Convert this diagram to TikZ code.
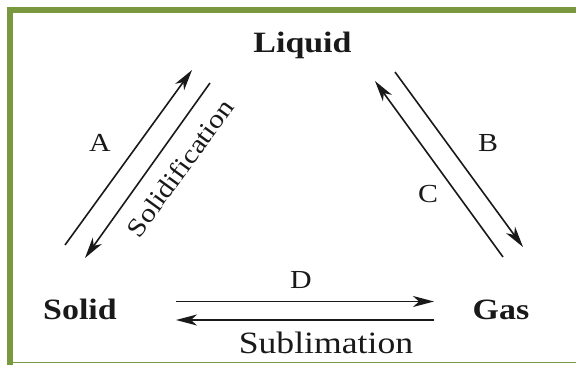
\documentclass[tikz,border=0pt]{standalone}
\usepackage{fontspec}
\setmainfont{Liberation Serif}[FakeStretch=1.15]
\usetikzlibrary{arrows.meta}
\definecolor{frameg}{RGB}{122,152,62}
\definecolor{ink}{RGB}{25,25,25}
\tikzset{
  phase/.style={font=\fontsize{29.5}{30}\selectfont\bfseries, text=ink, inner sep=0pt, anchor=base},
  lbl/.style={font=\fontsize{26}{28}\selectfont, text=ink, inner sep=0pt, anchor=base},
  proc/.style={font=\fontsize{31}{32}\selectfont, text=ink, inner sep=0pt},
  rproc/.style={font=\fontsize{26}{28}\selectfont, text=ink, inner sep=0pt},
  conn/.style={draw=ink, line width=1.6pt, -{Stealth[length=21pt,width=11pt,inset=6pt]}}
}
\begin{document}
\begin{tikzpicture}[x=1pt,y=-1pt]
\useasboundingbox (0,0) rectangle (576,365);
% frame
\fill[frameg] (7,7) rectangle (576,13);
\fill[frameg] (7,7) rectangle (13,365);
\draw[frameg, line width=1.6pt] (7,362.5) -- (576,362.5);
% phases
\node[phase] (liquid) at (302.5,52) {Liquid};
\node[phase] (solid) at (80,319) {Solid};
\node[phase] (gas) at (501,319) {Gas};
% endpoints
\coordinate (a0) at (65,245);  \coordinate (a1) at (192,70);
\coordinate (s0) at (210,83);  \coordinate (s1) at (85,258);
\coordinate (c0) at (503,257); \coordinate (c1) at (375,81);
\coordinate (b0) at (395,72);  \coordinate (b1) at (523,247);
\coordinate (d0) at (176,301.5); \coordinate (d1) at (434,301.5);
\coordinate (u0) at (434,320); \coordinate (u1) at (176,320);
% connectors
\draw[conn] (a0) -- (a1);
\draw[conn] (s0) -- (s1);
\draw[conn] (c0) -- (c1);
\draw[conn] (b0) -- (b1);
\draw[conn] (d0) -- (d1);
\draw[conn] (u0) -- (u1);
% labels
\node[lbl] (la) at (100,151) {A};
\node[lbl] (lb) at (488,151) {B};
\node[lbl] (lc) at (428,202) {C};
\node[lbl] (ld) at (301,288) {D};
\node[rproc, rotate=54] (lsol) at (180,168) {Solidification};
\node[proc, anchor=base] (lsub) at (326,353) {Sublimation};
\end{tikzpicture}
\end{document}
